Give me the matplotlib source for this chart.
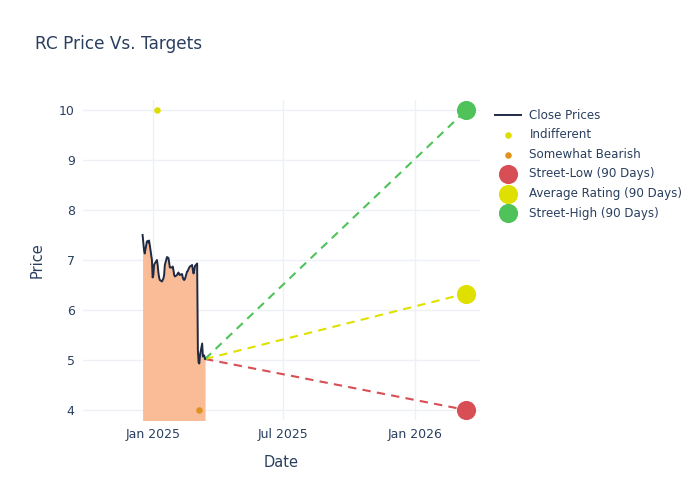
import matplotlib
matplotlib.use('Agg')
import matplotlib.pyplot as plt
import matplotlib.dates as mdates
import numpy as np
import pandas as pd

# Close prices (business days, Dec 17 2024 - Mar 14 2025)
dates = pd.bdate_range('2024-12-17', '2025-03-14')
close = [7.50, 7.35, 7.20, 7.13, 7.37, 7.38, 7.35, 7.39, 7.30, 7.00, 6.65,
         6.70, 6.90, 6.93, 7.00, 6.90, 6.75, 6.65, 6.60, 6.57, 6.60, 6.63,
         6.70, 6.90, 7.06, 7.05, 7.04, 6.95, 6.85, 6.85, 6.87, 6.80, 6.70,
         6.67, 6.70, 6.73, 6.75, 6.72, 6.70, 6.72, 6.65, 6.61, 6.60, 6.62,
         6.77, 6.78, 6.82, 6.85, 6.87, 6.90, 6.80, 6.73, 6.80, 6.88, 6.93,
         5.20, 4.95, 4.93, 5.10, 5.33, 5.07, 5.10, 5.08, 5.02]

# Analyst ratings
indiff_dates = ['2025-01-06']
indiff_vals = [10.0]
bear_dates = ['2025-03-05']
bear_vals = [4.0]

# 90 day targets
target_date = '2026-03-13'
target_names = ['Street-Low (90 Days)', 'Average Rating (90 Days)', 'Street-High (90 Days)']
target_vals = [4.0, 6.33, 10.0]
target_colors = ['#D84E55', '#E0E000', '#4FC35A']

text_color = '#2a3f5f'
grid_color = '#EEF0F5'

fig = plt.figure(figsize=(7, 5), dpi=100)
ax = fig.add_axes([83 / 700, 80 / 500, 397 / 700, 320 / 500])

dates = pd.to_datetime(dates)
ax.fill_between(dates, close, 0, color='#F9BC96', linewidth=0, zorder=1)
line, = ax.plot(dates, close, color='#1F2A44', lw=1.4, zorder=3, label='Close Prices')

ind = ax.scatter(pd.to_datetime(indiff_dates), indiff_vals, s=22, color='#DDDD00',
                 zorder=4, label='Indifferent', linewidths=0)
bear = ax.scatter(pd.to_datetime(bear_dates), bear_vals, s=22, color='#E0921F',
                  zorder=4, label='Somewhat Bearish', linewidths=0)

handles = [line, ind, bear]
t_date = pd.to_datetime(target_date)
for name, val, col in zip(target_names, target_vals, target_colors):
    ax.plot([dates[-1], t_date], [close[-1], val], color=col, lw=1.5,
            linestyle=(0, (4, 3)), zorder=2)
    h = ax.scatter([t_date], [val], s=190, color=col, zorder=5, label=name, linewidths=0)
    handles.append(h)

ax.set_xlim(pd.Timestamp('2024-09-25'), pd.Timestamp('2026-04-01'))
ax.set_ylim(3.8, 10.2)
ax.set_yticks(range(4, 11))
ax.set_xticks(pd.to_datetime(['2025-01-01', '2025-07-01', '2026-01-01']))
ax.xaxis.set_major_formatter(mdates.DateFormatter('%b %Y'))

ax.grid(True, color=grid_color, lw=1)
ax.set_axisbelow(True)
for s in ax.spines.values():
    s.set_visible(False)
ax.tick_params(length=0, colors=text_color, labelsize=9, pad=6)

ax.set_xlabel('Date', color=text_color, fontsize=10.5, labelpad=10)
ax.set_ylabel('Price', color=text_color, fontsize=10.5, labelpad=10)
fig.text(35 / 700, 1 - 44 / 500, 'RC Price Vs. Targets', color=text_color,
         fontsize=12.2, va='center', ha='left')

leg = fig.legend(handles=handles, loc='upper left', bbox_to_anchor=(490 / 700, 1 - 104 / 500),
                 frameon=False, fontsize=8.6, labelspacing=0.55, handlelength=2.2,
                 handletextpad=0.7, borderaxespad=0)
for t in leg.get_texts():
    t.set_color(text_color)

fig.savefig('out.png', dpi=100)
